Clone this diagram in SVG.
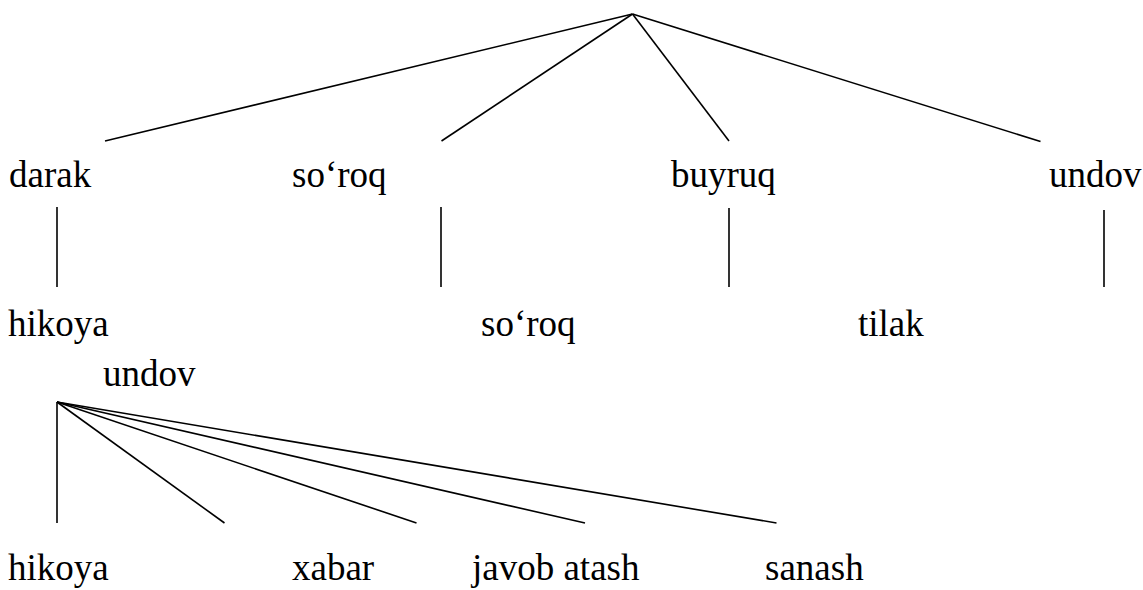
<svg xmlns="http://www.w3.org/2000/svg" width="1143" height="590" viewBox="0 0 1143 590">
<style>
text{font-family:'Liberation Serif','Times New Roman',Tinos,Times,serif;font-size:37px;fill:#000}
line{stroke:#000;stroke-width:1.6}
</style>
<rect width="1143" height="590" fill="#fff"/>
<g id="connectors">
<line x1="632.5" y1="14" x2="105" y2="141"/>
<line x1="632.5" y1="14" x2="441.5" y2="141"/>
<line x1="632.5" y1="14" x2="729" y2="141"/>
<line x1="632.5" y1="14" x2="1040.5" y2="141.5"/>
<line x1="57" y1="207" x2="57" y2="287"/>
<line x1="441" y1="207" x2="441" y2="287"/>
<line x1="729" y1="208" x2="729" y2="287"/>
<line x1="1104" y1="210" x2="1104" y2="287"/>
<line x1="57" y1="402" x2="57" y2="523"/>
<line x1="57" y1="402" x2="224.5" y2="523"/>
<line x1="57" y1="402" x2="416.5" y2="523"/>
<line x1="57" y1="402" x2="585" y2="523"/>
<line x1="57" y1="402" x2="776.5" y2="523"/>
</g>
<g id="n-darak"><text x="9" y="187">darak</text></g>
<g id="n-soroq1"><text x="292" y="187">so‘roq</text></g>
<g id="n-buyruq"><text x="671" y="187">buyruq</text></g>
<g id="n-undov1"><text x="1049" y="187">undov</text></g>
<g id="n-hikoya1"><text x="8" y="336">hikoya</text></g>
<g id="n-soroq2"><text x="481" y="336">so‘roq</text></g>
<g id="n-tilak"><text x="858" y="336">tilak</text></g>
<g id="n-undov2"><text x="103" y="386">undov</text></g>
<g id="n-hikoya2"><text x="8" y="580">hikoya</text></g>
<g id="n-xabar"><text x="292" y="580">xabar</text></g>
<g id="n-javob"><text x="472" y="580">javob atash</text></g>
<g id="n-sanash"><text x="765" y="580">sanash</text></g>
</svg>
